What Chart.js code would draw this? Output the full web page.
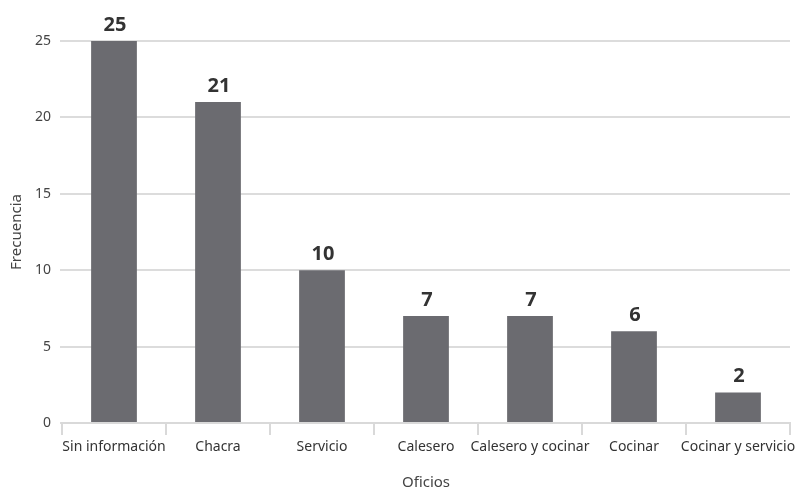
<!DOCTYPE html>
<html>
<head>
<meta charset="utf-8">
<script src="https://cdn.jsdelivr.net/npm/chart.js@4/dist/chart.umd.min.js"></script>
<style>
  html, body { margin: 0; padding: 0; background: #fff; }
  #wrap { width: 803px; height: 495px; }
</style>
</head>
<body>
<div id="wrap"><canvas id="barChart"></canvas></div>
<script>
var oficios = ['Sin información', 'Chacra', 'Servicio', 'Calesero', 'Calesero y cocinar', 'Cocinar', 'Cocinar y servicio'];
var frecuencia = [25, 21, 10, 7, 7, 6, 2];
var yTicks = [0, 5, 10, 15, 20, 25];

var fontName = '"Noto Sans", sans-serif';

// draws the value above each bar
var valueLabels = {
  id: 'valueLabels',
  afterDatasetsDraw: function(chart) {
    var ctx = chart.ctx;
    var meta = chart.getDatasetMeta(0);
    ctx.save();
    ctx.font = 'bold 20px ' + fontName;
    ctx.fillStyle = '#333333';
    ctx.textAlign = 'center';
    ctx.textBaseline = 'bottom';
    meta.data.forEach(function(bar, i) {
      ctx.fillText(frecuencia[i], bar.x + 1, bar.y - 6);
    });
    ctx.restore();
  }
};

var ctx = document.getElementById('barChart');
var chart = new Chart(ctx, {
  type: 'bar',
  data: {
    labels: oficios,
    datasets: [{
      data: frecuencia,
      backgroundColor: '#6b6b70',
      borderWidth: 0,
      categoryPercentage: 1,
      barPercentage: 0.44,
    }],
  },
  options: {
    responsive: true,
    maintainAspectRatio: false,
    animation: false,
    layout: {
      padding: { top: 41, right: 13, left: 0, bottom: 0 },
    },
    plugins: {
      legend: { display: false },
      tooltip: { enabled: false },
    },
    scales: {
      x: {
        offset: true,
        grid: {
          offset: true,
          drawOnChartArea: false,
          drawTicks: true,
          tickLength: 12,
          color: '#d9d9d9',
          lineWidth: 2,
        },
        border: { color: '#d9d9d9', width: 2 },
        ticks: {
          color: '#333333',
          font: { family: fontName, size: 14 },
          padding: 4,
          maxRotation: 0,
          autoSkip: false,
        },
        title: {
          display: true,
          text: 'Oficios',
          color: '#444444',
          font: { family: fontName, size: 15 },
          padding: { top: 14, bottom: 3 },
        },
        afterFit: function(scale) { scale.height = 72; },
      },
      y: {
        min: 0,
        max: 25,
        afterBuildTicks: function(scale) {
          scale.ticks = yTicks.map(function(v) { return { value: v }; });
        },
        grid: {
          color: '#dcdcdc',
          lineWidth: 2,
          tickLength: 2,
        },
        border: { display: false },
        ticks: {
          color: '#444444',
          font: { family: fontName, size: 14 },
          padding: 9,
        },
        title: {
          display: true,
          text: 'Frecuencia',
          color: '#444444',
          font: { family: fontName, size: 15 },
          padding: { top: 8, bottom: 4 },
        },
        afterFit: function(scale) { scale.width = 62; },
      },
    },
  },
  plugins: [valueLabels],
});
</script>
</body>
</html>
